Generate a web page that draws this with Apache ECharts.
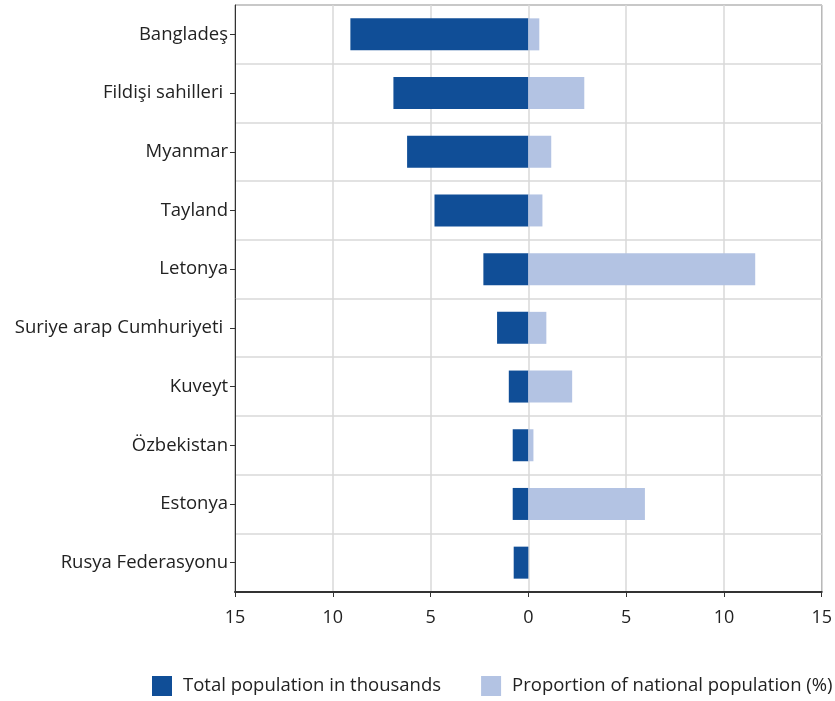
<!DOCTYPE html>
<html>
<head>
<meta charset="utf-8">
<script src="https://cdn.jsdelivr.net/npm/echarts@6/dist/echarts.min.js"></script>
<style>html,body{margin:0;padding:0;background:#fff}#c{width:835px;height:701px}</style>
</head>
<body>
<div id="c"></div>
<script>
const categories = ["Bangladeş","Fildişi sahilleri ","Myanmar","Tayland","Letonya","Suriye arap Cumhuriyeti ","Kuveyt","Özbekistan","Estonya","Rusya Federasyonu"];
const totalPopulation = [9.1, 6.9, 6.2, 4.8, 2.3, 1.6, 1.0, 0.8, 0.8, 0.75];
const proportion = [0.56, 2.86, 1.17, 0.72, 11.6, 0.92, 2.24, 0.26, 5.96, 0];
const xTicks = { min: -15, max: 15, interval: 5 };

const chart = echarts.init(document.getElementById('c'), null, { renderer: 'canvas' });
const font = '"Open Sans", Lato, sans-serif';
chart.setOption({
  animation: false,
  textStyle: { fontFamily: font },
  grid: { left: 235, right: 13, top: 5, bottom: 109, show: true, borderColor: '#333', borderWidth: 1, containLabel: false },
  legend: {
    bottom: 5, left: 152, width: 683, padding: 0, itemWidth: 20, itemHeight: 20, itemGap: 40, icon: 'rect',
    textStyle: { fontSize: 18.5, color: '#222', fontFamily: font, padding: [0, 0, 0, 6] },
    data: ['Total population in thousands', 'Proportion of national population (%)']
  },
  xAxis: {
    type: 'value', min: xTicks.min, max: xTicks.max, interval: xTicks.interval,
    axisLine: { show: true, onZero: false, lineStyle: { color: '#333', width: 2 } },
    axisTick: { show: true, length: 5, lineStyle: { color: '#333' } },
    axisLabel: { formatter: v => Math.abs(v), fontSize: 18, color: '#222', margin: 17 },
    splitLine: { show: true, lineStyle: { color: '#d9d9d9', width: 1.5 } }
  },
  yAxis: {
    type: 'category', data: categories, inverse: true,
    axisLine: { show: true, onZero: false, lineStyle: { color: '#333', width: 1 } },
    axisTick: { show: true, alignWithLabel: true, length: 5, lineStyle: { color: '#333' } },
    axisLabel: { fontSize: 18.5, color: '#222', margin: 7 },
    splitLine: { show: true, lineStyle: { color: '#d9d9d9', width: 1.5 } }
  },
  series: [
    { name: 'Total population in thousands', type: 'bar', stack: 's', barWidth: 32,
      itemStyle: { color: '#104E97' }, data: totalPopulation.map(v => -v) },
    { name: 'Proportion of national population (%)', type: 'bar', stack: 's', barWidth: 32,
      itemStyle: { color: '#B3C3E3' }, data: proportion }
  ]
});
</script>
</body>
</html>
